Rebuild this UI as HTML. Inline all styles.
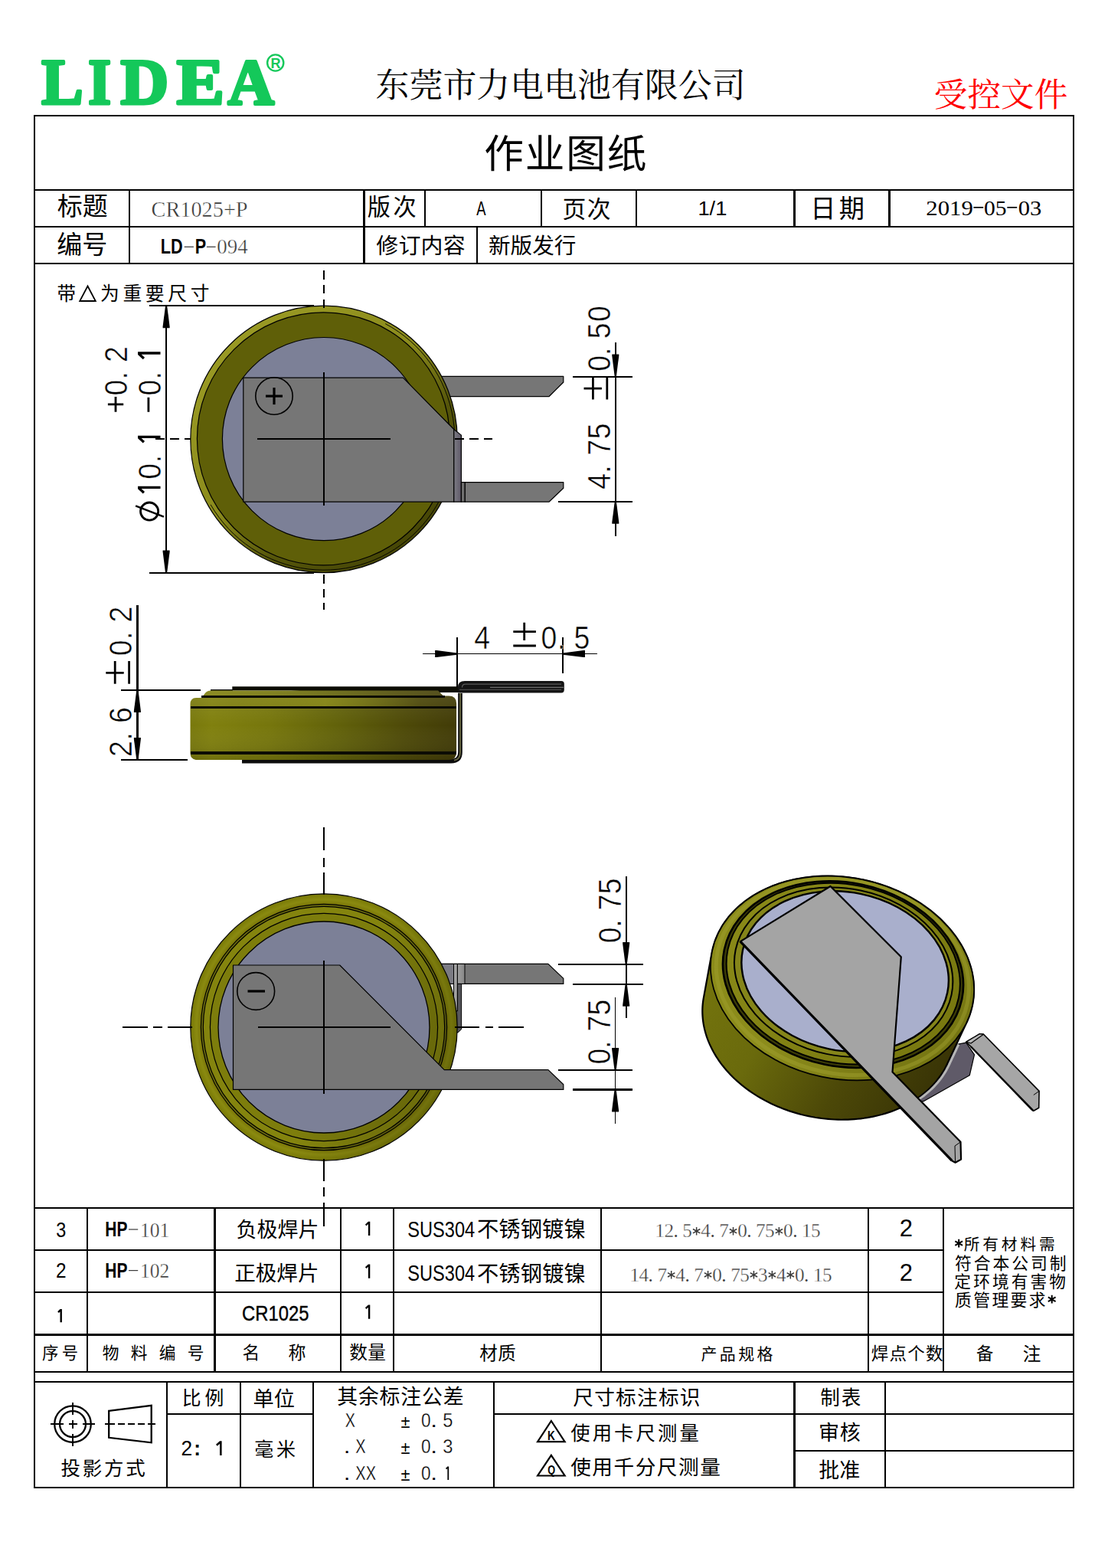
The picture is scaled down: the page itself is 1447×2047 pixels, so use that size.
<!DOCTYPE html>
<html lang="zh-CN"><head><meta charset="utf-8"><title>作业图纸 CR1025+P LD-P-094</title>
<style>
html,body{margin:0;padding:0;background:#fff}
body{width:1447px;height:2047px;position:relative;overflow:hidden;font-family:"Liberation Sans",sans-serif}
svg{position:absolute;left:0;top:0;display:block}
svg text{white-space:pre}
svg text.ck{font-family:"Liberation Sans","Noto Sans CJK SC",sans-serif}
svg text.cs{font-family:"Liberation Serif","Noto Serif CJK SC",serif}
.tl{position:absolute;left:0;top:0;width:1447px;height:2047px;overflow:hidden}
.tl span{position:absolute;white-space:pre;line-height:1;color:transparent;font-family:"Liberation Serif",serif}
</style></head>
<body>
<svg width="1447" height="2047" viewBox="0 0 1447 2047">
<defs>
<linearGradient id="gBev" x1="0.15" y1="0.1" x2="0.85" y2="0.9"><stop offset="0" stop-color="#9a9a24"/><stop offset="0.45" stop-color="#8b8b1c"/><stop offset="0.7" stop-color="#55550a"/><stop offset="1" stop-color="#454506"/></linearGradient>
<linearGradient id="gBend" x1="0" y1="0" x2="1" y2="0"><stop offset="0" stop-color="#7c7c84"/><stop offset="1" stop-color="#5e5868"/></linearGradient>
<linearGradient id="gSide" x1="0" y1="0" x2="1" y2="0"><stop offset="0" stop-color="#78780c"/><stop offset="0.08" stop-color="#80800e"/><stop offset="0.3" stop-color="#76760c"/><stop offset="0.55" stop-color="#62620a"/><stop offset="0.8" stop-color="#4e4a08"/><stop offset="1" stop-color="#413b07"/></linearGradient>
<linearGradient id="gShoulder" x1="0" y1="0" x2="1" y2="0"><stop offset="0" stop-color="#a0a020" stop-opacity="0"/><stop offset="0.5" stop-color="#a0a020" stop-opacity="0.5"/><stop offset="1" stop-color="#a0a020" stop-opacity="0"/></linearGradient>
<linearGradient id="gSideV" x1="0" y1="0" x2="0" y2="1"><stop offset="0" stop-color="#fff" stop-opacity="0.10"/><stop offset="0.5" stop-color="#fff" stop-opacity="0"/><stop offset="1" stop-color="#000" stop-opacity="0.12"/></linearGradient>
<linearGradient id="gBend2" x1="0" y1="0" x2="1" y2="0"><stop offset="0" stop-color="#a0a0a0"/><stop offset="1" stop-color="#868686"/></linearGradient>
<linearGradient id="gRingLR" x1="0" y1="0.3" x2="1" y2="0.7"><stop offset="0" stop-color="#000" stop-opacity="0"/><stop offset="0.55" stop-color="#000" stop-opacity="0"/><stop offset="1" stop-color="#000" stop-opacity="0.2"/></linearGradient>
<radialGradient id="gRing" cx="0.5" cy="0.5" r="0.5"><stop offset="0.915" stop-color="#777206"/><stop offset="0.955" stop-color="#8a8a10"/><stop offset="0.99" stop-color="#7c7c08"/><stop offset="1" stop-color="#6c6c08"/></radialGradient>
<linearGradient id="gIsoBody" gradientUnits="userSpaceOnUse" x1="925" y1="1260" x2="1240" y2="1450"><stop offset="0" stop-color="#74740d"/><stop offset="0.3" stop-color="#6a6a0c"/><stop offset="0.62" stop-color="#4c4808"/><stop offset="1" stop-color="#332e05"/></linearGradient>
<linearGradient id="gIsoRim" gradientUnits="userSpaceOnUse" x1="930" y1="1180" x2="1275" y2="1380"><stop offset="0" stop-color="#8a8a18"/><stop offset="0.45" stop-color="#8c8c1c"/><stop offset="1" stop-color="#707010"/></linearGradient>
<linearGradient id="gIsoIn" gradientUnits="userSpaceOnUse" x1="950" y1="1200" x2="1250" y2="1360"><stop offset="0" stop-color="#8a8a18"/><stop offset="1" stop-color="#77770f"/></linearGradient>
</defs>
<rect width="1447" height="2047" fill="#fff"/>
<polygon points="560,491.4 735.8,491.4 735.8,499 716.9,517.7 560,517.7" fill="#767676" stroke="#000" stroke-width="1.2" stroke-linejoin="round"/>
<circle cx="423" cy="573.4" r="174.2" fill="url(#gBev)" stroke="#000" stroke-width="1.2"/>
<path d="M503.19 422.59 A170.79999999999998 170.79999999999998 0 1 1 275.08 658.80" fill="none" stroke="#000" stroke-width="0.9"/>
<circle cx="422.4" cy="572.8" r="165" fill="#5f5f08" stroke="#000" stroke-width="1.2"/>
<circle cx="423" cy="573.1" r="132.6" fill="#7c8097" stroke="#000" stroke-width="1.2"/>
<polygon points="317.8,493.2 526.4,493.2 592.8,560.5 592.8,655.2 317.8,655.2" fill="#767676" stroke="#000" stroke-width="1.2" stroke-linejoin="round"/>
<polygon points="592.8,560.5 602.4,568.1 602.4,655.2 592.8,655.2" fill="url(#gBend)" stroke="#000" stroke-width="1.2" stroke-linejoin="round"/>
<polygon points="602.4,629.6 607.3,629.6 607.3,655.2 602.4,655.2" fill="#6e6e6e" stroke="#000" stroke-width="1.2" stroke-linejoin="round"/>
<polygon points="607.3,629.6 735.8,629.6 735.8,637.2 716.9,655.2 607.3,655.2" fill="#767676" stroke="#000" stroke-width="1.2" stroke-linejoin="round"/>
<circle cx="358" cy="517" r="24.2" fill="none" stroke="#000" stroke-width="1.6"/>
<line x1="347" y1="517.1" x2="369" y2="517.1" stroke="#000" stroke-width="3.2"/>
<line x1="358" y1="506.1" x2="358" y2="528.1" stroke="#000" stroke-width="3.2"/>
<line x1="203.3" y1="573" x2="249" y2="573" stroke="#000" stroke-width="1.7" stroke-dasharray="11.5 7.2" shape-rendering="crispEdges"/>
<line x1="336" y1="573" x2="509.8" y2="573" stroke="#000" stroke-width="1.7" shape-rendering="crispEdges"/>
<line x1="594.3" y1="573" x2="643" y2="573" stroke="#000" stroke-width="1.7" stroke-dasharray="11.5 7.2" shape-rendering="crispEdges"/>
<line x1="423" y1="353.1" x2="423" y2="401.8" stroke="#000" stroke-width="2" stroke-dasharray="11.5 7.2" shape-rendering="crispEdges"/>
<line x1="423" y1="486.2" x2="423" y2="660" stroke="#000" stroke-width="2" shape-rendering="crispEdges"/>
<line x1="423" y1="750" x2="423" y2="796" stroke="#000" stroke-width="2" stroke-dasharray="11.5 7.2" shape-rendering="crispEdges"/>
<line x1="195" y1="399.2" x2="409.7" y2="399.2" stroke="#000" stroke-width="1.8" shape-rendering="crispEdges"/>
<line x1="195" y1="747.6" x2="409.7" y2="747.6" stroke="#000" stroke-width="1.8" shape-rendering="crispEdges"/>
<line x1="217.1" y1="399" x2="217.1" y2="748" stroke="#000" stroke-width="1.7" shape-rendering="crispEdges"/>
<polygon points="218.2,399.4 221.6,426.18 221.6,428.2 212.6,428.2 212.6,426.18 216,399.4"/>
<polygon points="216,747.4 212.6,720.62 212.6,718.6 221.6,718.6 221.6,720.62 218.2,747.4"/>
<g transform="translate(209.5,681) rotate(-90)"><ellipse cx="13.4" cy="-14.4" rx="11.6" ry="11.6" fill="none" stroke="#000" stroke-width="2.8"/><path d="M6.4 4.4 L20.7 -32.4" fill="none" stroke="#000" stroke-width="2.4"/><path d="M37.7 -21.6 L43.5 -27.8 H44.7 V0" fill="none" stroke="#000" stroke-width="3.3" stroke-linejoin="miter"/><text transform="scale(0.87,1)" x="63.61" y="0" font-family="Liberation Sans" font-size="43" stroke="#fff" stroke-width="0.55">0</text><text transform="scale(0.87,1)" x="88.37" y="0" font-family="Liberation Sans" font-size="43" stroke="#fff" stroke-width="0.55">.</text><path d="M103.7 -21.6 L109.5 -27.8 H110.7 V0" fill="none" stroke="#000" stroke-width="3.3" stroke-linejoin="miter"/></g>
<g transform="translate(209.5,538) rotate(-90)"><path d="M0.2 -15.6 H19.2" fill="none" stroke="#000" stroke-width="2.8"/><text transform="scale(0.87,1)" x="24.76" y="0" font-family="Liberation Sans" font-size="43" stroke="#fff" stroke-width="0.55">0</text><text transform="scale(0.87,1)" x="48.83" y="0" font-family="Liberation Sans" font-size="43" stroke="#fff" stroke-width="0.55">.</text><path d="M70 -21.6 L75.8 -27.8 H77 V0" fill="none" stroke="#000" stroke-width="3.3" stroke-linejoin="miter"/></g>
<g transform="translate(166.3,538) rotate(-90)"><path d="M0.2 -15.3 H20 M10.1 -25.4 V-5.1" fill="none" stroke="#000" stroke-width="2.8"/><text transform="scale(0.87,1)" x="24.76" y="0" font-family="Liberation Sans" font-size="43" stroke="#fff" stroke-width="0.55">0</text><text transform="scale(0.87,1)" x="48.83" y="0" font-family="Liberation Sans" font-size="43" stroke="#fff" stroke-width="0.55">.</text><text transform="scale(0.87,1)" x="74.73" y="0" font-family="Liberation Sans" font-size="43" stroke="#fff" stroke-width="0.55">2</text></g>
<line x1="748.2" y1="491.6" x2="826" y2="491.6" stroke="#000" stroke-width="2.2" shape-rendering="crispEdges"/>
<line x1="729.3" y1="654.8" x2="826" y2="654.8" stroke="#000" stroke-width="1.8" shape-rendering="crispEdges"/>
<line x1="803.8" y1="447.3" x2="803.8" y2="700" stroke="#000" stroke-width="1.7" shape-rendering="crispEdges"/>
<polygon points="802.7,491.2 799.3,464.42 799.3,462.4 808.3,462.4 808.3,464.42 804.9,491.2"/>
<polygon points="804.9,655 808.3,681.78 808.3,683.8 799.3,683.8 799.3,681.78 802.7,655"/>
<g transform="translate(796.5,638) rotate(-90)"><text transform="scale(0.87,1)" x="-0.76" y="0" font-family="Liberation Sans" font-size="43" stroke="#fff" stroke-width="0.55">4</text><text transform="scale(0.87,1)" x="23.32" y="0" font-family="Liberation Sans" font-size="43" stroke="#fff" stroke-width="0.55">.</text><text transform="scale(0.87,1)" x="49.86" y="0" font-family="Liberation Sans" font-size="43" stroke="#fff" stroke-width="0.55">7</text><text transform="scale(0.87,1)" x="74.49" y="0" font-family="Liberation Sans" font-size="43" stroke="#fff" stroke-width="0.55">5</text><path d="M116.5 -22.1 H146.1 M130.9 -34 V-10.6 M116.5 -3.7 H146.1" fill="none" stroke="#000" stroke-width="2.8"/><text transform="scale(0.87,1)" x="176.02" y="0" font-family="Liberation Sans" font-size="43" stroke="#fff" stroke-width="0.55">0</text><text transform="scale(0.87,1)" x="200.1" y="0" font-family="Liberation Sans" font-size="43" stroke="#fff" stroke-width="0.55">.</text><text transform="scale(0.87,1)" x="224.94" y="0" font-family="Liberation Sans" font-size="43" stroke="#fff" stroke-width="0.55">5</text><text transform="scale(0.87,1)" x="250.5" y="0" font-family="Liberation Sans" font-size="43" stroke="#fff" stroke-width="0.55">0</text></g>
<text class="ck" x="74.38" y="391.9" font-size="24.51" fill="#000">带</text>
<text class="ck" x="131.06 160.47 189.87 219.28 248.68" y="392.15" font-size="24.75" fill="#000">为重要尺寸</text>
<polygon points="114.5,373.5 124.8,393 104.2,393" fill="none" stroke="#000" stroke-width="1.8"/>
<path d="M316 993.6 H589 Q601 993.6 601 982 V905" fill="none" stroke="#0c0c0c" stroke-width="5.6" stroke-linecap="butt"/>
<path d="M593 992.6 Q601 991.5 601 982 V905" fill="none" stroke="#6a6a44" stroke-width="1.8"/>
<path d="M303.3 896.2 H598 V904 H440 L380 901.6 H303.3 Z" fill="#0c0c04"/>
<line x1="274.5" y1="900.6" x2="304" y2="900.6" stroke="#111" stroke-width="2" shape-rendering="crispEdges"/>
<path d="M248.5 919 Q248.5 910.9 256.6 910.9 H262.9 L267.5 905.5 Q270 901.6 276 901.6 H572 L579 908.6 H586 Q596.1 908.6 596.1 918.5 V982 Q596.1 992 586 992 H258 Q248.5 992 248.5 983 Z" fill="url(#gSide)"/>
<path d="M248.5 919 Q248.5 910.9 256.6 910.9 H262.9 L267.5 905.5 Q270 901.6 276 901.6 H572 L579 908.6 H586 Q596.1 908.6 596.1 918.5 V982 Q596.1 992 586 992 H258 Q248.5 992 248.5 983 Z" fill="url(#gSideV)"/>
<rect x="300" y="911" width="250" height="11" fill="url(#gShoulder)"/>
<line x1="262.9" y1="909.4" x2="581" y2="909.4" stroke="#0c0c04" stroke-width="3" shape-rendering="crispEdges"/>
<line x1="248.8" y1="923.7" x2="596" y2="923.7" stroke="#0c0c04" stroke-width="3.1" shape-rendering="crispEdges"/>
<line x1="248.8" y1="983" x2="596" y2="983" stroke="#0c0c04" stroke-width="3.1" shape-rendering="crispEdges"/>
<path d="M598 904.4 V897 Q598 888.9 607 888.9 H733 Q736.8 888.9 736.8 892.5 V900.8 Q736.8 904.4 733 904.4 Z" fill="#141414"/>
<path d="M603.5 897.6 Q603.5 893.2 608 893.2 H733" fill="none" stroke="#5a5a5a" stroke-width="1.3"/>
<line x1="640" y1="897.4" x2="736" y2="897.4" stroke="#6e6e6e" stroke-width="1.2"/>
<line x1="600" y1="900.4" x2="733" y2="900.4" stroke="#4a4a4a" stroke-width="1.1"/>
<line x1="158.1" y1="901" x2="262" y2="901" stroke="#000" stroke-width="1.8" shape-rendering="crispEdges"/>
<line x1="158.1" y1="992" x2="244.9" y2="992" stroke="#000" stroke-width="1.8" shape-rendering="crispEdges"/>
<line x1="179.4" y1="789.7" x2="179.4" y2="992.8" stroke="#000" stroke-width="2.4" shape-rendering="crispEdges"/>
<polygon points="180.5,901.2 183.9,927.98 183.9,930 174.9,930 174.9,927.98 178.3,901.2"/>
<polygon points="178.3,991.8 174.9,965.02 174.9,963 183.9,963 183.9,965.02 180.5,991.8"/>
<g transform="translate(172.3,986.5) rotate(-90)"><text transform="scale(0.87,1)" x="-1.82" y="0" font-family="Liberation Sans" font-size="43" stroke="#fff" stroke-width="0.55">2</text><text transform="scale(0.87,1)" x="23.09" y="0" font-family="Liberation Sans" font-size="43" stroke="#fff" stroke-width="0.55">.</text><text transform="scale(0.87,1)" x="48.97" y="0" font-family="Liberation Sans" font-size="43" stroke="#fff" stroke-width="0.55">6</text><path d="M93.8 -22.1 H123.4 M108.2 -34 V-10.6 M93.8 -3.7 H123.4" fill="none" stroke="#000" stroke-width="2.8"/><text transform="scale(0.87,1)" x="149.58" y="0" font-family="Liberation Sans" font-size="43" stroke="#fff" stroke-width="0.55">0</text><text transform="scale(0.87,1)" x="174" y="0" font-family="Liberation Sans" font-size="43" stroke="#fff" stroke-width="0.55">.</text><text transform="scale(0.87,1)" x="199.91" y="0" font-family="Liberation Sans" font-size="43" stroke="#fff" stroke-width="0.55">2</text></g>
<line x1="552.2" y1="853.6" x2="780" y2="853.6" stroke="#000" stroke-width="1.7" shape-rendering="crispEdges"/>
<line x1="597.1" y1="832.3" x2="597.1" y2="897" stroke="#000" stroke-width="1.7" shape-rendering="crispEdges"/>
<line x1="735" y1="832.3" x2="735" y2="878.5" stroke="#000" stroke-width="1.7" shape-rendering="crispEdges"/>
<polygon points="596.9,854.7 570.12,858.1 568.1,858.1 568.1,849.1 570.12,849.1 596.9,852.5"/>
<polygon points="735.2,852.5 761.98,849.1 764,849.1 764,858.1 761.98,858.1 735.2,854.7"/>
<g transform="translate(0,846.7)"><text transform="scale(0.87,1)" x="711.66" y="0" font-family="Liberation Sans" font-size="43" stroke="#fff" stroke-width="0.55">4</text><path d="M670.3 -22.1 H699.9 M684.7 -34 V-10.6 M670.3 -3.7 H699.9" fill="none" stroke="#000" stroke-width="2.8"/><text transform="scale(0.87,1)" x="812.11" y="0" font-family="Liberation Sans" font-size="43" stroke="#fff" stroke-width="0.55">0</text><text transform="scale(0.87,1)" x="836.76" y="0" font-family="Liberation Sans" font-size="43" stroke="#fff" stroke-width="0.55">.</text><text transform="scale(0.87,1)" x="861.61" y="0" font-family="Liberation Sans" font-size="43" stroke="#fff" stroke-width="0.55">5</text></g>
<polygon points="570,1258.4 715.9,1258.4 735.8,1277.4 735.8,1284.4 570,1284.4" fill="#767676" stroke="#000" stroke-width="1.2" stroke-linejoin="round"/>
<polygon points="570,1258.4 592.5,1258.4 592.5,1284.4 570,1284.4" fill="#7c7c84" stroke="#000" stroke-width="1" stroke-linejoin="round"/>
<path d="M592.5 1258.4 H597.4 V1320 H592.5 Z" fill="#a3a3a3" stroke="#000" stroke-width="1"/>
<polygon points="597.4,1258.4 607,1258.4 607,1284.4 597.4,1284.4" fill="url(#gBend2)" stroke="#000" stroke-width="1" stroke-linejoin="round"/>
<path d="M597.4 1284.4 H602.6 V1343.7 L598 1348 H594 V1320 H597.4 Z" fill="#56565b" stroke="#000" stroke-width="1"/>
<circle cx="423" cy="1341" r="174.2" fill="url(#gRing)" stroke="#000" stroke-width="1.2"/>
<circle cx="423" cy="1341" r="174.2" fill="url(#gRingLR)"/>
<circle cx="423" cy="1341" r="160.6" fill="#6c6c10" stroke="#000" stroke-width="1.2"/>
<circle cx="423" cy="1341" r="157.7" fill="#84840e" stroke="#000" stroke-width="1.2"/>
<circle cx="423" cy="1341" r="148.6" fill="#7d7d0c" stroke="#000" stroke-width="1.2"/>
<circle cx="423" cy="1341" r="160" fill="url(#gRingLR)"/>
<circle cx="423" cy="1341" r="138" fill="#7c8097" stroke="#000" stroke-width="1.3"/>
<polygon points="304.5,1260 443.7,1260 580.2,1396.6 715.9,1396.6 735.8,1415.7 735.8,1422.4 304.5,1422.4" fill="#767676" stroke="#000" stroke-width="1.2" stroke-linejoin="round"/>
<circle cx="334.2" cy="1294" r="24.4" fill="none" stroke="#000" stroke-width="1.6"/>
<line x1="323.5" y1="1294" x2="346" y2="1294" stroke="#000" stroke-width="3.2"/>
<line x1="160.4" y1="1341" x2="193" y2="1341" stroke="#000" stroke-width="1.7" shape-rendering="crispEdges"/>
<line x1="200" y1="1341" x2="212" y2="1341" stroke="#000" stroke-width="1.7" shape-rendering="crispEdges"/>
<line x1="219" y1="1341" x2="250.5" y2="1341" stroke="#000" stroke-width="1.7" shape-rendering="crispEdges"/>
<line x1="336.6" y1="1341" x2="509.6" y2="1341" stroke="#000" stroke-width="1.7" shape-rendering="crispEdges"/>
<line x1="594.3" y1="1341" x2="626" y2="1341" stroke="#000" stroke-width="1.7" shape-rendering="crispEdges"/>
<line x1="633.6" y1="1341" x2="644" y2="1341" stroke="#000" stroke-width="1.7" shape-rendering="crispEdges"/>
<line x1="651" y1="1341" x2="684" y2="1341" stroke="#000" stroke-width="1.7" shape-rendering="crispEdges"/>
<line x1="423" y1="1079.7" x2="423" y2="1110" stroke="#000" stroke-width="2" shape-rendering="crispEdges"/>
<line x1="423" y1="1120" x2="423" y2="1132" stroke="#000" stroke-width="2" shape-rendering="crispEdges"/>
<line x1="423" y1="1139" x2="423" y2="1168" stroke="#000" stroke-width="2" shape-rendering="crispEdges"/>
<line x1="423" y1="1253.8" x2="423" y2="1427.6" stroke="#000" stroke-width="2" shape-rendering="crispEdges"/>
<line x1="423" y1="1512.5" x2="423" y2="1542" stroke="#000" stroke-width="2" shape-rendering="crispEdges"/>
<line x1="423" y1="1550" x2="423" y2="1562" stroke="#000" stroke-width="2" shape-rendering="crispEdges"/>
<line x1="423" y1="1570" x2="423" y2="1601" stroke="#000" stroke-width="2" shape-rendering="crispEdges"/>
<line x1="729" y1="1259" x2="840" y2="1259" stroke="#000" stroke-width="1.7" shape-rendering="crispEdges"/>
<line x1="748" y1="1284.7" x2="840" y2="1284.7" stroke="#000" stroke-width="1.7" shape-rendering="crispEdges"/>
<line x1="817.7" y1="1144" x2="817.7" y2="1328.6" stroke="#000" stroke-width="1.7" shape-rendering="crispEdges"/>
<polygon points="816.6,1258.8 813.2,1232.02 813.2,1230 822.2,1230 822.2,1232.02 818.8,1258.8"/>
<polygon points="818.8,1284.9 822.2,1311.68 822.2,1313.7 813.2,1313.7 813.2,1311.68 816.6,1284.9"/>
<g transform="translate(810.6,1230) rotate(-90)"><text transform="scale(0.87,1)" x="-1.33" y="0" font-family="Liberation Sans" font-size="43" stroke="#fff" stroke-width="0.55">0</text><text transform="scale(0.87,1)" x="22.17" y="0" font-family="Liberation Sans" font-size="43" stroke="#fff" stroke-width="0.55">.</text><text transform="scale(0.87,1)" x="47.8" y="0" font-family="Liberation Sans" font-size="43" stroke="#fff" stroke-width="0.55">7</text><text transform="scale(0.87,1)" x="72.19" y="0" font-family="Liberation Sans" font-size="43" stroke="#fff" stroke-width="0.55">5</text></g>
<line x1="729" y1="1397" x2="825.5" y2="1397" stroke="#000" stroke-width="1.7" shape-rendering="crispEdges"/>
<line x1="748" y1="1422.4" x2="825.5" y2="1422.4" stroke="#000" stroke-width="2.6" shape-rendering="crispEdges"/>
<line x1="803.6" y1="1302" x2="803.6" y2="1466.5" stroke="#000" stroke-width="1.7" shape-rendering="crispEdges"/>
<polygon points="802.5,1396.8 799.1,1370.02 799.1,1368 808.1,1368 808.1,1370.02 804.7,1396.8"/>
<polygon points="804.7,1422.6 808.1,1449.38 808.1,1451.4 799.1,1451.4 799.1,1449.38 802.5,1422.6"/>
<g transform="translate(796.5,1388.3) rotate(-90)"><text transform="scale(0.87,1)" x="-1.33" y="0" font-family="Liberation Sans" font-size="43" stroke="#fff" stroke-width="0.55">0</text><text transform="scale(0.87,1)" x="22.17" y="0" font-family="Liberation Sans" font-size="43" stroke="#fff" stroke-width="0.55">.</text><text transform="scale(0.87,1)" x="47.8" y="0" font-family="Liberation Sans" font-size="43" stroke="#fff" stroke-width="0.55">7</text><text transform="scale(0.87,1)" x="72.19" y="0" font-family="Liberation Sans" font-size="43" stroke="#fff" stroke-width="0.55">5</text></g>
<polygon points="1261.7,1361.2 1272.5,1376.8 1266.3,1403.7 1205.7,1437.9 1190,1437 1235,1376.8 1245,1364.3" fill="#5f5a68" stroke="#000" stroke-width="1.2" stroke-linejoin="round"/>
<polygon points="1279.4,1349.8 1284.5,1350.2 1357.1,1424.4 1356.7,1446.2 1349.8,1450.3 1346.7,1448.3 1268,1366.4 1261.7,1360.2" fill="#a6a6a6" stroke="#000" stroke-width="1.6" stroke-linejoin="round"/>
<line x1="1268" y1="1366.4" x2="1349.8" y2="1450.3" stroke="#000" stroke-width="2.2"/>
<line x1="1357.1" y1="1424.4" x2="1349.8" y2="1429.5" stroke="#000" stroke-width="1"/>
<polygon points="1261.7,1360.2 1279.4,1349.8 1284.5,1350.2 1268,1362" fill="#b8b8b8" stroke="#000" stroke-width="1.2" stroke-linejoin="round"/>
<path d="M917.3 1320.03 L917.35 1316.72 L917.52 1313.42 L917.8 1310.14 L918.19 1306.87 L918.7 1303.62 L929.42 1244.88 L930.07 1241.5 L930.83 1238.14 L931.71 1234.82 L932.7 1231.52 L933.81 1228.25 L935.03 1225.01 L936.36 1221.81 L937.81 1218.65 L939.37 1215.53 L941.04 1212.45 L942.81 1209.42 L944.7 1206.43 L946.69 1203.49 L948.79 1200.6 L950.99 1197.76 L953.29 1194.97 L955.69 1192.25 L958.19 1189.58 L960.79 1186.97 L963.48 1184.42 L966.27 1181.94 L969.15 1179.52 L972.12 1177.17 L975.18 1174.88 L978.32 1172.67 L981.54 1170.53 L984.85 1168.46 L988.24 1166.46 L991.7 1164.54 L995.23 1162.7 L998.84 1160.94 L1002.52 1159.25 L1006.26 1157.65 L1010.07 1156.13 L1013.94 1154.69 L1017.87 1153.33 L1021.86 1152.06 L1025.9 1150.88 L1029.99 1149.78 L1034.12 1148.77 L1038.31 1147.85 L1042.53 1147.01 L1046.8 1146.27 L1051.1 1145.61 L1055.43 1145.04 L1059.8 1144.57 L1064.19 1144.18 L1068.61 1143.89 L1073.05 1143.69 L1077.5 1143.58 L1081.98 1143.56 L1086.46 1143.63 L1090.96 1143.79 L1095.46 1144.05 L1099.96 1144.39 L1104.46 1144.83 L1108.96 1145.36 L1113.46 1145.97 L1117.94 1146.68 L1122.42 1147.48 L1126.87 1148.36 L1131.31 1149.34 L1135.73 1150.4 L1140.12 1151.54 L1144.49 1152.78 L1148.82 1154.1 L1153.13 1155.5 L1157.39 1156.99 L1161.62 1158.55 L1165.8 1160.2 L1169.94 1161.93 L1174.03 1163.74 L1178.07 1165.63 L1182.06 1167.59 L1185.99 1169.63 L1189.86 1171.74 L1193.67 1173.92 L1197.41 1176.18 L1201.09 1178.5 L1204.7 1180.89 L1208.24 1183.35 L1211.7 1185.87 L1215.09 1188.45 L1218.4 1191.09 L1221.62 1193.8 L1224.77 1196.56 L1227.83 1199.37 L1230.8 1202.24 L1233.68 1205.16 L1236.47 1208.13 L1239.16 1211.14 L1241.76 1214.2 L1244.27 1217.31 L1246.67 1220.45 L1248.97 1223.63 L1251.18 1226.85 L1253.27 1230.11 L1255.27 1233.4 L1257.15 1236.71 L1258.93 1240.06 L1260.6 1243.43 L1262.16 1246.82 L1263.61 1250.23 L1264.95 1253.66 L1266.17 1257.11 L1267.28 1260.57 L1268.28 1264.04 L1269.16 1267.52 L1269.92 1271.01 L1270.57 1274.5 L1271.1 1278 L1271.51 1281.49 L1271.81 1284.98 L1271.98 1288.46 L1272.04 1291.94 L1271.99 1295.41 L1271.81 1298.86 L1271.52 1302.3 L1271.1 1305.72 L1270.58 1309.12 L1269.93 1312.5 L1269.17 1315.86 L1268.29 1319.18 L1267.3 1322.48 L1266.19 1325.75 L1264.97 1328.99 L1263.64 1332.19 L1262.19 1335.35 L1236.49 1390.02 L1235 1393 L1233.41 1395.94 L1231.71 1398.84 L1229.91 1401.7 L1228.01 1404.51 L1226.01 1407.27 L1223.91 1409.98 L1221.71 1412.63 L1219.42 1415.24 L1217.03 1417.79 L1214.55 1420.28 L1211.97 1422.71 L1209.31 1425.09 L1206.56 1427.4 L1203.73 1429.64 L1200.81 1431.82 L1197.81 1433.94 L1194.73 1435.98 L1191.57 1437.96 L1188.33 1439.86 L1185.03 1441.7 L1181.65 1443.46 L1178.2 1445.14 L1174.69 1446.75 L1171.12 1448.28 L1167.48 1449.73 L1163.78 1451.11 L1160.03 1452.4 L1156.23 1453.61 L1152.37 1454.75 L1148.46 1455.8 L1144.51 1456.76 L1140.52 1457.64 L1136.48 1458.44 L1132.41 1459.15 L1128.3 1459.78 L1124.16 1460.32 L1119.99 1460.77 L1115.8 1461.14 L1111.58 1461.42 L1107.34 1461.61 L1103.08 1461.72 L1098.81 1461.74 L1094.53 1461.67 L1090.24 1461.51 L1085.94 1461.27 L1081.64 1460.94 L1077.34 1460.52 L1073.04 1460.02 L1068.75 1459.43 L1064.46 1458.76 L1060.19 1457.99 L1055.94 1457.15 L1051.7 1456.22 L1047.48 1455.21 L1043.28 1454.11 L1039.11 1452.93 L1034.97 1451.67 L1030.86 1450.33 L1026.79 1448.91 L1022.76 1447.42 L1018.76 1445.84 L1014.81 1444.19 L1010.9 1442.46 L1007.04 1440.66 L1003.24 1438.79 L999.48 1436.84 L995.79 1434.82 L992.15 1432.74 L988.57 1430.59 L985.06 1428.37 L981.61 1426.08 L978.23 1423.74 L974.92 1421.33 L971.69 1418.87 L968.53 1416.34 L965.45 1413.76 L962.45 1411.12 L959.53 1408.44 L956.69 1405.7 L953.94 1402.91 L951.27 1400.07 L948.7 1397.19 L946.22 1394.27 L943.83 1391.31 L941.53 1388.3 L939.33 1385.26 L937.23 1382.19 L935.22 1379.08 L933.32 1375.94 L931.52 1372.78 L929.82 1369.58 L928.23 1366.36 L926.74 1363.12 L925.35 1359.86 L924.08 1356.59 L922.91 1353.3 L921.85 1349.99 L920.9 1346.67 L920.06 1343.35 L919.33 1340.02 L918.71 1336.68 L918.2 1333.35 L917.81 1330.01 L917.53 1326.68 L917.36 1323.35Z" fill="url(#gIsoBody)" stroke="#000" stroke-width="2.2" stroke-linejoin="round"/>
<path d="M1251.94 1363.49 L1251.08 1365.31 L1250.23 1367.13 L1249.37 1368.95 L1248.51 1370.78 L1247.66 1372.6 L1246.8 1374.42 L1245.94 1376.24 L1245.09 1378.07 L1244.23 1379.89 L1243.37 1381.71 L1242.52 1383.53 L1241.66 1385.36 L1240.8 1387.18 L1239.95 1389 L1239.09 1390.82 L1237.6 1393.8 L1236.01 1396.74 L1234.31 1399.64 L1232.51 1402.5 L1230.61 1405.31 L1228.61 1408.07 L1226.51 1410.78 L1224.31 1413.43 L1222.02 1416.04 L1219.63 1418.59 L1217.15 1421.08 L1214.57 1423.51 L1211.91 1425.89 L1209.16 1428.2 L1206.33 1430.44 L1203.41 1432.62 L1200.41 1434.74" fill="none" stroke="#b6b6b6" stroke-width="3"/>
<ellipse cx="1100" cy="1277" rx="173.6" ry="131.42" transform="rotate(11.8 1100 1277)" fill="url(#gIsoRim)" stroke="#000" stroke-width="1.7"/>
<g opacity="0.45">
<ellipse cx="1100.31" cy="1275.53" rx="166.6" ry="126.12" transform="rotate(11.8 1100.31 1275.53)" fill="none" stroke="#a2a230" stroke-width="5"/>
</g>
<ellipse cx="1101.02" cy="1272.11" rx="158.5" ry="119.98" transform="rotate(11.8 1101.02 1272.11)" fill="#3c3c06" stroke="#000" stroke-width="2.6"/>
<ellipse cx="1101.23" cy="1271.13" rx="154" ry="116.58" transform="rotate(11.8 1101.23 1271.13)" fill="url(#gIsoIn)" stroke="#000" stroke-width="2.0"/>
<ellipse cx="1101.64" cy="1269.17" rx="144" ry="109.01" transform="rotate(11.8 1101.64 1269.17)" fill="#85851a" stroke="#000" stroke-width="2.0"/>
<ellipse cx="1103.6" cy="1268.2" rx="136.5" ry="103.33" transform="rotate(11.8 1103.6 1268.2)" fill="#a9afcc" stroke="#000" stroke-width="2.4"/>
<polygon points="966.8,1229.1 1084.5,1157 1176.8,1249.2 1165.5,1399.5 1254.5,1490.8 1255.1,1513.6 1247.6,1517.7 1243.1,1515.2" fill="#a4a4a4" stroke="#000" stroke-width="2.2" stroke-linejoin="round"/>
<line x1="966.8" y1="1229.1" x2="1243.1" y2="1515.2" stroke="#000" stroke-width="3.2"/>
<line x1="1254.5" y1="1490.8" x2="1247" y2="1496" stroke="#000" stroke-width="1"/>
<line x1="1247" y1="1496" x2="1247.6" y2="1517.7" stroke="#000" stroke-width="1"/>
<rect x="44" y="150" width="1359" height="2"/>
<rect x="44" y="1941" width="1359" height="2"/>
<rect x="44" y="150" width="2" height="1793"/>
<rect x="1401" y="150" width="2" height="1793"/>
<rect x="44" y="247" width="1359" height="2"/>
<rect x="44" y="295" width="1359" height="2"/>
<rect x="44" y="343" width="1359" height="2"/>
<rect x="168" y="247" width="2" height="96"/>
<rect x="474" y="247" width="3" height="96"/>
<rect x="554" y="247" width="2" height="48"/>
<rect x="706" y="247" width="2" height="48"/>
<rect x="830" y="247" width="2" height="48"/>
<rect x="1036" y="247" width="3" height="48"/>
<rect x="1160" y="247" width="3" height="48"/>
<rect x="622" y="295" width="2" height="48"/>
<rect x="44" y="1576" width="1359" height="2"/>
<rect x="44" y="1741" width="1359" height="3"/>
<rect x="44" y="1790" width="1359" height="2"/>
<rect x="44" y="1803" width="1359" height="2"/>
<rect x="44" y="1631" width="1189" height="2"/>
<rect x="44" y="1686" width="1189" height="2"/>
<rect x="113" y="1576" width="2" height="214"/>
<rect x="444" y="1576" width="2" height="214"/>
<rect x="513" y="1576" width="2" height="214"/>
<rect x="784" y="1576" width="2" height="214"/>
<rect x="1133" y="1576" width="2" height="214"/>
<rect x="1231" y="1576" width="2" height="214"/>
<rect x="279" y="1576" width="3" height="214"/>
<rect x="217" y="1803" width="2" height="138"/>
<rect x="313" y="1803" width="2" height="138"/>
<rect x="408" y="1803" width="2" height="138"/>
<rect x="644" y="1803" width="2" height="138"/>
<rect x="1036" y="1803" width="3" height="138"/>
<rect x="1155" y="1803" width="2" height="138"/>
<rect x="217" y="1845" width="192" height="2"/>
<rect x="644" y="1845" width="759" height="2"/>
<rect x="1036" y="1893" width="367" height="2"/>
<text transform="translate(54.31,136.4) scale(0.9575,1)" font-family="Liberation Serif" font-weight="bold" font-size="85.04" fill="#14c85a" stroke="#14c85a" stroke-width="4.0" stroke-linejoin="round">L</text>
<text transform="translate(115.32,136.4) scale(0.8990,1)" font-family="Liberation Serif" font-weight="bold" font-size="85.04" fill="#14c85a" stroke="#14c85a" stroke-width="4.0" stroke-linejoin="round">I</text>
<text transform="translate(157.47,136.4) scale(1.0204,1)" font-family="Liberation Serif" font-weight="bold" font-size="85.04" fill="#14c85a" stroke="#14c85a" stroke-width="4.0" stroke-linejoin="round">D</text>
<text transform="translate(230.71,136.4) scale(1.0961,1)" font-family="Liberation Serif" font-weight="bold" font-size="85.04" fill="#14c85a" stroke="#14c85a" stroke-width="4.0" stroke-linejoin="round">E</text>
<text transform="translate(297.48,136.4) scale(0.9857,1)" font-family="Liberation Serif" font-weight="bold" font-size="85.04" fill="#14c85a" stroke="#14c85a" stroke-width="4.0" stroke-linejoin="round">A</text>
<circle cx="359.7" cy="82" r="10.6" fill="none" stroke="#14c85a" stroke-width="2.4"/>
<text x="359.9" y="88.6" font-family="Liberation Sans" font-weight="bold" font-size="18" text-anchor="middle" fill="#14c85a">R</text>
<text class="cs" x="490.6 534.5 578.41 622.31 666.22 710.12 754.03 797.93 841.84 885.75 929.65" y="127.21" font-size="43.91" fill="#000">东莞市力电电池有限公司</text>
<text class="cs" x="1219.85 1263.49 1307.12 1350.76" y="139.02" font-size="43.64" fill="#f00">受控文件</text>
<text class="ck" x="632.35 685.82 739.29 792.76" y="218.99" font-size="51.63" fill="#000">作业图纸</text>
<text class="ck" x="74.75 107.77" y="281.18" font-size="33.02" fill="#000">标题</text>
<text class="ck" x="74.25 107.3" y="331.05" font-size="33.05" fill="#000">编号</text>
<text class="ck" x="479.71 513.51" y="280.69" font-size="30.22" fill="#000">版次</text>
<text class="ck" x="734.54 766.87" y="284.22" font-size="30.87" fill="#000">页次</text>
<text class="ck" x="1058.29 1095.83" y="283.74" font-size="33.22" fill="#000">日期</text>
<text class="ck" x="491.36 520.46 549.55 578.65" y="331.46" font-size="28.96" fill="#000">修订内容</text>
<text class="ck" x="638.03 666.6 695.18 723.75" y="331.37" font-size="28.58" fill="#000">新版发行</text>
<text x="197.54" y="283" font-family="Liberation Serif" font-size="28.4" textLength="126.09" lengthAdjust="spacingAndGlyphs" fill="#333" stroke="#fff" stroke-width="0.45">CR1025+P</text>
<text x="209.85" y="330.8" font-family="Liberation Sans" font-size="26.8" textLength="28.86" lengthAdjust="spacingAndGlyphs" font-weight="bold">LD</text>
<text x="254.76" y="330.8" font-family="Liberation Sans" font-size="26.8" textLength="14.38" lengthAdjust="spacingAndGlyphs" font-weight="bold">P</text>
<line x1="240.7" y1="322.3" x2="252.9" y2="322.3" stroke="#333" stroke-width="1.2"/>
<line x1="269.9" y1="322.3" x2="281.6" y2="322.3" stroke="#333" stroke-width="1.2"/>
<text x="283.28" y="330.8" font-family="Liberation Serif" font-size="28" textLength="40.34" lengthAdjust="spacingAndGlyphs" fill="#333" stroke="#fff" stroke-width="0.45">094</text>
<text x="622.36" y="280.8" font-family="Liberation Sans" font-size="25.6" textLength="12.27" lengthAdjust="spacingAndGlyphs">A</text>
<text x="911.42" y="281.4" font-family="Liberation Sans" font-size="26.5" textLength="38.02" lengthAdjust="spacingAndGlyphs">1/1</text>
<text x="1209.25" y="281.1" font-family="Liberation Serif" font-size="28.3" textLength="61.51" lengthAdjust="spacingAndGlyphs">2019</text>
<text x="1284.97" y="281.1" font-family="Liberation Serif" font-size="28.3" textLength="29.58" lengthAdjust="spacingAndGlyphs">05</text>
<text x="1329.74" y="281.1" font-family="Liberation Serif" font-size="28.3" textLength="30.56" lengthAdjust="spacingAndGlyphs">03</text>
<line x1="1271.4" y1="270.8" x2="1284.2" y2="270.8" stroke="#000" stroke-width="1.7"/>
<line x1="1315.3" y1="270.8" x2="1328.2" y2="270.8" stroke="#000" stroke-width="1.7"/>
<text x="73.31" y="1614.6" font-family="Liberation Sans" font-size="27.4" textLength="13.02" lengthAdjust="spacingAndGlyphs">3</text>
<text x="72.97" y="1668.2" font-family="Liberation Sans" font-size="27.4" textLength="13.55" lengthAdjust="spacingAndGlyphs">2</text>
<path d="M76.00 1713.16 L78.98 1710.18 H79.70 V1726.30" fill="none" stroke="#000" stroke-width="2.4" stroke-linejoin="miter"/>
<text x="137.3" y="1614.2" font-family="Liberation Sans" font-size="26.8" textLength="29.12" lengthAdjust="spacingAndGlyphs" font-weight="bold">HP</text>
<line x1="168" y1="1605" x2="180.2" y2="1605" stroke="#3a3a3a" stroke-width="1.2"/>
<text x="182.95" y="1614.6" font-family="Liberation Serif" font-size="26.4" textLength="38.39" lengthAdjust="spacingAndGlyphs" fill="#3a3a3a" stroke="#fff" stroke-width="0.35">101</text>
<text x="137.3" y="1667.8" font-family="Liberation Sans" font-size="26.8" textLength="29.12" lengthAdjust="spacingAndGlyphs" font-weight="bold">HP</text>
<line x1="168" y1="1658.6" x2="180.2" y2="1658.6" stroke="#3a3a3a" stroke-width="1.2"/>
<text x="182.96" y="1668.2" font-family="Liberation Serif" font-size="26.4" textLength="38.25" lengthAdjust="spacingAndGlyphs" fill="#3a3a3a" stroke="#fff" stroke-width="0.35">102</text>
<text class="ck" x="308.51 335.5 362.48 389.46" y="1614.78" font-size="26.98" fill="#000">负极焊片</text>
<text class="ck" x="306.13 333.72 361.32 388.91" y="1672.32" font-size="27.59" fill="#000">正极焊片</text>
<text x="316.09" y="1724.3" font-family="Liberation Sans" font-size="27.4" textLength="87.31" lengthAdjust="spacingAndGlyphs" stroke="#000" stroke-width="0.4">CR1025</text>
<path d="M477.70 1599.50 L481.38 1595.98 H482.10 V1613.10" fill="none" stroke="#000" stroke-width="2.4" stroke-linejoin="miter"/>
<path d="M477.70 1655.10 L481.38 1651.58 H482.10 V1668.70" fill="none" stroke="#000" stroke-width="2.4" stroke-linejoin="miter"/>
<path d="M477.70 1708.20 L481.38 1704.68 H482.10 V1721.80" fill="none" stroke="#000" stroke-width="2.4" stroke-linejoin="miter"/>
<text x="532.33" y="1614.5" font-family="Liberation Sans" font-size="28.6" textLength="87.86" lengthAdjust="spacingAndGlyphs">SUS304</text>
<text class="ck" x="622.94 651.31 679.68 708.05 736.42" y="1614.93" font-size="28.35" fill="#000">不锈钢镀镍</text>
<text x="532.33" y="1672" font-family="Liberation Sans" font-size="28.6" textLength="87.86" lengthAdjust="spacingAndGlyphs">SUS304</text>
<text class="ck" x="622.94 651.34 679.73 708.13 736.52" y="1672.94" font-size="28.25" fill="#000">不锈钢镀镍</text>
<text transform="translate(861.75,1615.4)" font-family="Liberation Serif" font-size="25.2" text-anchor="middle" fill="#3a3a3a" stroke="#fff" stroke-width="0.35">1</text>
<text transform="translate(873.73,1615.4)" font-family="Liberation Serif" font-size="25.2" text-anchor="middle" fill="#3a3a3a" stroke="#fff" stroke-width="0.35">2</text>
<text transform="translate(882.69,1615.4)" font-family="Liberation Serif" font-size="25.2" text-anchor="middle" fill="#3a3a3a">.</text>
<text transform="translate(897.66,1615.4)" font-family="Liberation Serif" font-size="25.2" text-anchor="middle" fill="#3a3a3a" stroke="#fff" stroke-width="0.35">5</text>
<path d="M909.635 1602.0 v10.4 M904.96 1604.50 l9.36 5.41 M914.31 1604.50 l-9.36 5.41" stroke="#3a3a3a" stroke-width="1.5" fill="none"/>
<text transform="translate(921.61,1615.4)" font-family="Liberation Serif" font-size="25.2" text-anchor="middle" fill="#3a3a3a" stroke="#fff" stroke-width="0.35">4</text>
<text transform="translate(930.58,1615.4)" font-family="Liberation Serif" font-size="25.2" text-anchor="middle" fill="#3a3a3a">.</text>
<text transform="translate(945.54,1615.4)" font-family="Liberation Serif" font-size="25.2" text-anchor="middle" fill="#3a3a3a" stroke="#fff" stroke-width="0.35">7</text>
<path d="M957.515 1602.0 v10.4 M952.84 1604.50 l9.36 5.41 M962.19 1604.50 l-9.36 5.41" stroke="#3a3a3a" stroke-width="1.5" fill="none"/>
<text transform="translate(969.49,1615.4)" font-family="Liberation Serif" font-size="25.2" text-anchor="middle" fill="#3a3a3a" stroke="#fff" stroke-width="0.35">0</text>
<text transform="translate(978.45,1615.4)" font-family="Liberation Serif" font-size="25.2" text-anchor="middle" fill="#3a3a3a">.</text>
<text transform="translate(993.42,1615.4)" font-family="Liberation Serif" font-size="25.2" text-anchor="middle" fill="#3a3a3a" stroke="#fff" stroke-width="0.35">7</text>
<text transform="translate(1005.39,1615.4)" font-family="Liberation Serif" font-size="25.2" text-anchor="middle" fill="#3a3a3a" stroke="#fff" stroke-width="0.35">5</text>
<path d="M1017.365 1602.0 v10.4 M1012.69 1604.50 l9.36 5.41 M1022.04 1604.50 l-9.36 5.41" stroke="#3a3a3a" stroke-width="1.5" fill="none"/>
<text transform="translate(1029.34,1615.4)" font-family="Liberation Serif" font-size="25.2" text-anchor="middle" fill="#3a3a3a" stroke="#fff" stroke-width="0.35">0</text>
<text transform="translate(1038.31,1615.4)" font-family="Liberation Serif" font-size="25.2" text-anchor="middle" fill="#3a3a3a">.</text>
<text transform="translate(1053.28,1615.4)" font-family="Liberation Serif" font-size="25.2" text-anchor="middle" fill="#3a3a3a" stroke="#fff" stroke-width="0.35">1</text>
<text transform="translate(1065.24,1615.4)" font-family="Liberation Serif" font-size="25.2" text-anchor="middle" fill="#3a3a3a" stroke="#fff" stroke-width="0.35">5</text>
<text transform="translate(828.81,1672.5)" font-family="Liberation Serif" font-size="25.2" text-anchor="middle" fill="#3a3a3a" stroke="#fff" stroke-width="0.35">1</text>
<text transform="translate(840.78,1672.5)" font-family="Liberation Serif" font-size="25.2" text-anchor="middle" fill="#3a3a3a" stroke="#fff" stroke-width="0.35">4</text>
<text transform="translate(849.75,1672.5)" font-family="Liberation Serif" font-size="25.2" text-anchor="middle" fill="#3a3a3a">.</text>
<text transform="translate(864.72,1672.5)" font-family="Liberation Serif" font-size="25.2" text-anchor="middle" fill="#3a3a3a" stroke="#fff" stroke-width="0.35">7</text>
<path d="M876.6949999999999 1659.1 v10.4 M872.01 1661.60 l9.36 5.41 M881.37 1661.60 l-9.36 5.41" stroke="#3a3a3a" stroke-width="1.5" fill="none"/>
<text transform="translate(888.66,1672.5)" font-family="Liberation Serif" font-size="25.2" text-anchor="middle" fill="#3a3a3a" stroke="#fff" stroke-width="0.35">4</text>
<text transform="translate(897.63,1672.5)" font-family="Liberation Serif" font-size="25.2" text-anchor="middle" fill="#3a3a3a">.</text>
<text transform="translate(912.6,1672.5)" font-family="Liberation Serif" font-size="25.2" text-anchor="middle" fill="#3a3a3a" stroke="#fff" stroke-width="0.35">7</text>
<path d="M924.5749999999999 1659.1 v10.4 M919.89 1661.60 l9.36 5.41 M929.25 1661.60 l-9.36 5.41" stroke="#3a3a3a" stroke-width="1.5" fill="none"/>
<text transform="translate(936.54,1672.5)" font-family="Liberation Serif" font-size="25.2" text-anchor="middle" fill="#3a3a3a" stroke="#fff" stroke-width="0.35">0</text>
<text transform="translate(945.51,1672.5)" font-family="Liberation Serif" font-size="25.2" text-anchor="middle" fill="#3a3a3a">.</text>
<text transform="translate(960.48,1672.5)" font-family="Liberation Serif" font-size="25.2" text-anchor="middle" fill="#3a3a3a" stroke="#fff" stroke-width="0.35">7</text>
<text transform="translate(972.45,1672.5)" font-family="Liberation Serif" font-size="25.2" text-anchor="middle" fill="#3a3a3a" stroke="#fff" stroke-width="0.35">5</text>
<path d="M984.425 1659.1 v10.4 M979.75 1661.60 l9.36 5.41 M989.10 1661.60 l-9.36 5.41" stroke="#3a3a3a" stroke-width="1.5" fill="none"/>
<text transform="translate(996.39,1672.5)" font-family="Liberation Serif" font-size="25.2" text-anchor="middle" fill="#3a3a3a" stroke="#fff" stroke-width="0.35">3</text>
<path d="M1008.3649999999999 1659.1 v10.4 M1003.68 1661.60 l9.36 5.41 M1013.04 1661.60 l-9.36 5.41" stroke="#3a3a3a" stroke-width="1.5" fill="none"/>
<text transform="translate(1020.33,1672.5)" font-family="Liberation Serif" font-size="25.2" text-anchor="middle" fill="#3a3a3a" stroke="#fff" stroke-width="0.35">4</text>
<path d="M1032.3049999999998 1659.1 v10.4 M1027.62 1661.60 l9.36 5.41 M1036.98 1661.60 l-9.36 5.41" stroke="#3a3a3a" stroke-width="1.5" fill="none"/>
<text transform="translate(1044.27,1672.5)" font-family="Liberation Serif" font-size="25.2" text-anchor="middle" fill="#3a3a3a" stroke="#fff" stroke-width="0.35">0</text>
<text transform="translate(1053.24,1672.5)" font-family="Liberation Serif" font-size="25.2" text-anchor="middle" fill="#3a3a3a">.</text>
<text transform="translate(1068.21,1672.5)" font-family="Liberation Serif" font-size="25.2" text-anchor="middle" fill="#3a3a3a" stroke="#fff" stroke-width="0.35">1</text>
<text transform="translate(1080.18,1672.5)" font-family="Liberation Serif" font-size="25.2" text-anchor="middle" fill="#3a3a3a" stroke="#fff" stroke-width="0.35">5</text>
<text x="1174.74" y="1613.7" font-family="Liberation Sans" font-size="31.6" textLength="17.21" lengthAdjust="spacingAndGlyphs">2</text>
<text x="1174.74" y="1671.7" font-family="Liberation Sans" font-size="31.2" textLength="17.21" lengthAdjust="spacingAndGlyphs">2</text>
<path d="M1252.2 1617.6999999999998 v10.8 M1247.34 1620.29 l9.72 5.62 M1257.06 1620.29 l-9.72 5.62" stroke="#000" stroke-width="2.0" fill="none"/>
<text class="ck" x="1258.65 1283.24 1307.82 1332.41 1356.99" y="1631.78" font-size="20.71" fill="#000">所有材料需</text>
<text class="ck" x="1247.01 1271.74 1296.47 1321.21 1345.94 1370.67" y="1656.89" font-size="21.83" fill="#000">符合本公司制</text>
<text class="ck" x="1246.34 1271.14 1295.94 1320.74 1345.54 1370.34" y="1680.9" font-size="21.69" fill="#000">定环境有害物</text>
<text class="ck" x="1247.01 1271.19 1295.38 1319.56 1343.75" y="1705.21" font-size="21.78" fill="#000">质管理要求</text>
<path d="M1373.7 1690.8 v10.8 M1368.84 1693.39 l9.72 5.62 M1378.56 1693.39 l-9.72 5.62" stroke="#000" stroke-width="2.0" fill="none"/>
<text class="ck" x="54.99 80.65" y="1774.26" font-size="21.33" fill="#000">序号</text>
<text class="ck" x="133.86 170.83 207.8 244.77" y="1774.18" font-size="21.72" fill="#000">物料编号</text>
<text class="ck" x="316.57" y="1774.34" font-size="22.77" fill="#000">名</text>
<text class="ck" x="376.38" y="1774.39" font-size="22.95" fill="#000">称</text>
<text class="ck" x="456.2 480.16" y="1774.46" font-size="23.68" fill="#000">数量</text>
<text class="ck" x="626.26 650.33" y="1775.01" font-size="23.51" fill="#000">材质</text>
<text class="ck" x="915.38 939.77 964.16 988.54" y="1774.78" font-size="20.93" fill="#000">产品规格</text>
<text class="ck" x="1137.73 1161.45 1185.17 1208.88" y="1775.48" font-size="22.52" fill="#000">焊点个数</text>
<text class="ck" x="1274.96" y="1774.97" font-size="22.28" fill="#000">备</text>
<text class="ck" x="1335.67" y="1776.14" font-size="23.6" fill="#000">注</text>
<circle cx="95" cy="1859.1" r="23.8" fill="none" stroke="#000" stroke-width="2.3"/>
<circle cx="95" cy="1859.1" r="17" fill="none" stroke="#000" stroke-width="2.3"/>
<line x1="66.2" y1="1859.1" x2="82.5" y2="1859.1" stroke="#000" stroke-width="2" shape-rendering="crispEdges"/>
<line x1="89.5" y1="1859.1" x2="100.5" y2="1859.1" stroke="#000" stroke-width="2" shape-rendering="crispEdges"/>
<line x1="107.5" y1="1859.1" x2="124" y2="1859.1" stroke="#000" stroke-width="2" shape-rendering="crispEdges"/>
<line x1="95" y1="1831.2" x2="95" y2="1846.5" stroke="#000" stroke-width="2" shape-rendering="crispEdges"/>
<line x1="95" y1="1853.6" x2="95" y2="1864.6" stroke="#000" stroke-width="2" shape-rendering="crispEdges"/>
<line x1="95" y1="1871.7" x2="95" y2="1888" stroke="#000" stroke-width="2" shape-rendering="crispEdges"/>
<polygon points="142.2,1841.8 197.7,1834.9 197.7,1883.3 142.2,1876.8" fill="none" stroke="#000" stroke-width="2.3"/>
<line x1="137.1" y1="1858.8" x2="150.2" y2="1858.8" stroke="#000" stroke-width="2" shape-rendering="crispEdges"/>
<line x1="153.5" y1="1858.8" x2="162.5" y2="1858.8" stroke="#000" stroke-width="2" shape-rendering="crispEdges"/>
<line x1="166.5" y1="1858.8" x2="175.5" y2="1858.8" stroke="#000" stroke-width="2" shape-rendering="crispEdges"/>
<line x1="179.5" y1="1858.8" x2="188.5" y2="1858.8" stroke="#000" stroke-width="2" shape-rendering="crispEdges"/>
<line x1="192.5" y1="1858.8" x2="202.8" y2="1858.8" stroke="#000" stroke-width="2" shape-rendering="crispEdges"/>
<text class="ck" x="79.53 107.77 136 164.24" y="1925.68" font-size="25.46" fill="#000">投影方式</text>
<text class="ck" x="237.84 267.62" y="1833.84" font-size="24.83" fill="#000">比例</text>
<text class="ck" x="330.54 357.74" y="1835.65" font-size="27.2" fill="#000">单位</text>
<text x="236.58" y="1900.1" font-family="Liberation Sans" font-size="27.3" textLength="14.65" lengthAdjust="spacingAndGlyphs">2</text>
<text x="253.37" y="1900.1" font-family="Liberation Sans" font-size="27.3" textLength="8.76" lengthAdjust="spacingAndGlyphs" font-weight="bold">:</text>
<path d="M282.90 1886.76 L287.52 1882.47 H288.30 V1900.10" fill="none" stroke="#000" stroke-width="2.6" stroke-linejoin="miter"/>
<text class="ck" x="332.15 361.12" y="1900.62" font-size="25.03" fill="#000">毫米</text>
<text class="ck" x="440.21 467.9 495.6 523.29 550.98 578.68" y="1832.98" font-size="26.89" fill="#000">其余标注公差</text>
<text x="450.66" y="1863" font-family="Liberation Sans" font-size="25.3" textLength="13.16" lengthAdjust="spacingAndGlyphs" stroke="#fff" stroke-width="0.35">X</text>
<text x="523.41" y="1864" font-family="Liberation Sans" font-size="23.53" textLength="11.97" lengthAdjust="spacingAndGlyphs">±</text>
<text x="550.12" y="1863" font-family="Liberation Sans" font-size="25.3" textLength="12.57" lengthAdjust="spacingAndGlyphs" stroke="#fff" stroke-width="0.35">0</text>
<text x="562.32" y="1863" font-family="Liberation Sans" font-size="25.3" textLength="8.75" lengthAdjust="spacingAndGlyphs">.</text>
<text x="578.25" y="1863" font-family="Liberation Sans" font-size="25.3" textLength="13.26" lengthAdjust="spacingAndGlyphs" stroke="#fff" stroke-width="0.35">5</text>
<text x="448.72" y="1897" font-family="Liberation Sans" font-size="25.3" textLength="8.75" lengthAdjust="spacingAndGlyphs">.</text>
<text x="464.25" y="1897" font-family="Liberation Sans" font-size="25.3" textLength="13.37" lengthAdjust="spacingAndGlyphs" stroke="#fff" stroke-width="0.35">X</text>
<text x="523.41" y="1898" font-family="Liberation Sans" font-size="23.53" textLength="11.97" lengthAdjust="spacingAndGlyphs">±</text>
<text x="550.12" y="1897" font-family="Liberation Sans" font-size="25.3" textLength="12.57" lengthAdjust="spacingAndGlyphs" stroke="#fff" stroke-width="0.35">0</text>
<text x="562.32" y="1897" font-family="Liberation Sans" font-size="25.3" textLength="8.75" lengthAdjust="spacingAndGlyphs">.</text>
<text x="578.29" y="1897" font-family="Liberation Sans" font-size="25.3" textLength="13.26" lengthAdjust="spacingAndGlyphs" stroke="#fff" stroke-width="0.35">3</text>
<text x="448.72" y="1931.9" font-family="Liberation Sans" font-size="25.3" textLength="8.75" lengthAdjust="spacingAndGlyphs">.</text>
<text x="464.25" y="1931.9" font-family="Liberation Sans" font-size="25.3" textLength="13.37" lengthAdjust="spacingAndGlyphs" stroke="#fff" stroke-width="0.35">X</text>
<text x="477.85" y="1931.9" font-family="Liberation Sans" font-size="25.3" textLength="13.37" lengthAdjust="spacingAndGlyphs" stroke="#fff" stroke-width="0.35">X</text>
<text x="523.41" y="1932.9" font-family="Liberation Sans" font-size="23.53" textLength="11.97" lengthAdjust="spacingAndGlyphs">±</text>
<text x="550.12" y="1931.9" font-family="Liberation Sans" font-size="25.3" textLength="12.57" lengthAdjust="spacingAndGlyphs" stroke="#fff" stroke-width="0.35">0</text>
<text x="562.32" y="1931.9" font-family="Liberation Sans" font-size="25.3" textLength="8.75" lengthAdjust="spacingAndGlyphs">.</text>
<path d="M582.60 1917.54 L584.76 1915.31 H585.30 V1931.90" fill="none" stroke="#000" stroke-width="1.8" stroke-linejoin="miter"/>
<text class="ck" x="748.31 776.2 804.09 831.99 859.88 887.77" y="1833.84" font-size="26.67" fill="#000">尺寸标注标识</text>
<polygon points="719.9,1855 737.6,1882.1 702.1,1882.1" fill="none" stroke="#000" stroke-width="2.2" stroke-linejoin="miter"/>
<text x="714.89" y="1880.2" font-family="Liberation Sans" font-size="17" textLength="9.84" lengthAdjust="spacingAndGlyphs" font-weight="bold">K</text>
<text class="ck" x="745.19 773.64 802.08 830.53 858.97 887.42" y="1880.39" font-size="25.33" fill="#000">使用卡尺测量</text>
<polygon points="719.9,1899.8 737.6,1926.5 702.1,1926.5" fill="none" stroke="#000" stroke-width="2.2" stroke-linejoin="miter"/>
<text x="715.28" y="1924.6" font-family="Liberation Sans" font-size="17" textLength="9.85" lengthAdjust="spacingAndGlyphs" font-weight="bold">Q</text>
<text class="ck" x="745.15 773.31 801.48 829.65 857.82 885.99 914.15" y="1925.16" font-size="26.68" fill="#000">使用千分尺测量</text>
<text class="ck" x="1071.32 1098.79" y="1834.29" font-size="25.59" fill="#000">制表</text>
<text class="ck" x="1068.93 1096.75" y="1880.06" font-size="27.07" fill="#000">审核</text>
<text class="ck" x="1069.16 1096.14" y="1928.6" font-size="26.97" fill="#000">批准</text>
</svg>
<div class="tl"><span style="left:209.5px;top:661px;font-size:20px">Ø10.1</span><span style="left:209.5px;top:518px;font-size:20px">-0.1</span><span style="left:166.3px;top:518px;font-size:20px">+0.2</span><span style="left:796.5px;top:618px;font-size:20px">4.75 ±0.50</span><span style="left:74.38px;top:370.33px;font-size:24.51px;letter-spacing:-24.51px">带</span><span style="left:131.06px;top:370.37px;font-size:24.75px;letter-spacing:4.65px">为重要尺寸</span><span style="left:172.3px;top:966.5px;font-size:20px">2.6 ±0.2</span><span style="left:0px;top:826.7px;font-size:20px">4 ±0.5</span><span style="left:810.6px;top:1210px;font-size:20px">0.75</span><span style="left:796.5px;top:1368.3px;font-size:20px">0.75</span><span style="left:490.6px;top:88.57px;font-size:43.91px;letter-spacing:0px">东莞市力电电池有限公司</span><span style="left:1219.85px;top:100.62px;font-size:43.64px;letter-spacing:-0px">受控文件</span><span style="left:632.35px;top:173.56px;font-size:51.63px;letter-spacing:1.84px">作业图纸</span><span style="left:74.75px;top:252.12px;font-size:33.02px;letter-spacing:0px">标题</span><span style="left:74.25px;top:301.97px;font-size:33.05px;letter-spacing:0px">编号</span><span style="left:479.71px;top:254.1px;font-size:30.22px;letter-spacing:3.57px">版次</span><span style="left:734.54px;top:257.06px;font-size:30.87px;letter-spacing:1.46px">页次</span><span style="left:1058.29px;top:254.51px;font-size:33.22px;letter-spacing:4.33px">日期</span><span style="left:491.36px;top:305.97px;font-size:28.96px;letter-spacing:0.13px">修订内容</span><span style="left:638.03px;top:306.22px;font-size:28.58px;letter-spacing:0px">新版发行</span><span style="left:308.51px;top:1591.03px;font-size:26.98px;letter-spacing:0px">负极焊片</span><span style="left:306.13px;top:1648.04px;font-size:27.59px;letter-spacing:0px">正极焊片</span><span style="left:622.94px;top:1589.98px;font-size:28.35px;letter-spacing:0.01px">不锈钢镀镍</span><span style="left:622.94px;top:1648.09px;font-size:28.25px;letter-spacing:0.15px">不锈钢镀镍</span><span style="left:1258.65px;top:1613.56px;font-size:20.71px;letter-spacing:3.88px">所有材料需</span><span style="left:1247.01px;top:1637.68px;font-size:21.83px;letter-spacing:2.91px">符合本公司制</span><span style="left:1246.34px;top:1661.81px;font-size:21.69px;letter-spacing:3.11px">定环境有害物</span><span style="left:1247.01px;top:1686.05px;font-size:21.78px;letter-spacing:2.4px">质管理要求</span><span style="left:54.99px;top:1755.49px;font-size:21.33px;letter-spacing:4.33px">序号</span><span style="left:133.86px;top:1755.06px;font-size:21.72px;letter-spacing:15.24px">物料编号</span><span style="left:316.57px;top:1754.3px;font-size:22.77px;letter-spacing:-22.77px">名</span><span style="left:376.38px;top:1754.19px;font-size:22.95px;letter-spacing:-22.95px">称</span><span style="left:456.2px;top:1753.62px;font-size:23.68px;letter-spacing:0.27px">数量</span><span style="left:626.26px;top:1754.32px;font-size:23.51px;letter-spacing:0.56px">材质</span><span style="left:915.38px;top:1756.36px;font-size:20.93px;letter-spacing:3.46px">产品规格</span><span style="left:1137.73px;top:1755.66px;font-size:22.52px;letter-spacing:1.19px">焊点个数</span><span style="left:1274.96px;top:1755.36px;font-size:22.28px;letter-spacing:-22.28px">备</span><span style="left:1335.67px;top:1755.37px;font-size:23.6px;letter-spacing:-23.6px">注</span><span style="left:79.53px;top:1903.27px;font-size:25.46px;letter-spacing:2.77px">投影方式</span><span style="left:237.84px;top:1811.99px;font-size:24.83px;letter-spacing:4.95px">比例</span><span style="left:330.54px;top:1811.71px;font-size:27.2px;letter-spacing:0px">单位</span><span style="left:332.15px;top:1878.6px;font-size:25.03px;letter-spacing:3.95px">毫米</span><span style="left:440.21px;top:1809.32px;font-size:26.89px;letter-spacing:0.8px">其余标注公差</span><span style="left:748.31px;top:1810.37px;font-size:26.67px;letter-spacing:1.22px">尺寸标注标识</span><span style="left:745.19px;top:1858.1px;font-size:25.33px;letter-spacing:3.12px">使用卡尺测量</span><span style="left:745.15px;top:1901.68px;font-size:26.68px;letter-spacing:1.49px">使用千分尺测量</span><span style="left:1071.32px;top:1811.77px;font-size:25.59px;letter-spacing:1.89px">制表</span><span style="left:1068.93px;top:1856.24px;font-size:27.07px;letter-spacing:0.76px">审核</span><span style="left:1069.16px;top:1904.86px;font-size:26.97px;letter-spacing:0px">批准</span></div>
</body></html>
